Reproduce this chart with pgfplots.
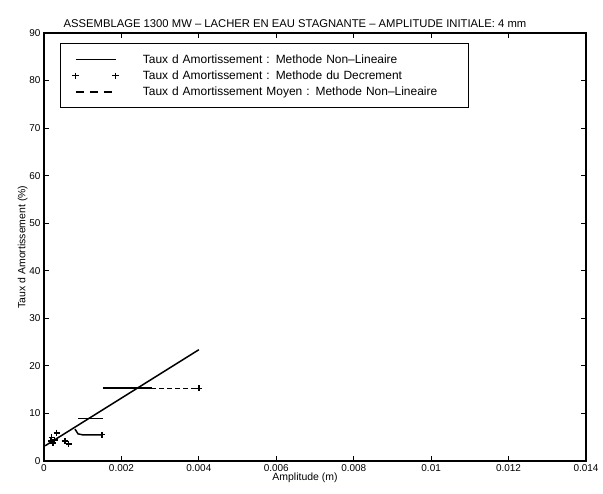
\documentclass[border=0pt]{standalone}
\usepackage{pgfplots}
\pgfplotsset{compat=1.18}
\usepackage{fontspec}
\setmainfont{Liberation Sans}
\begin{document}
\begin{tikzpicture}
\begin{axis}[
  name=ax,
  scale only axis,
  width=542bp, height=428bp,
  xmin=0, xmax=0.014, ymin=0, ymax=90,
  scaled x ticks=false,
  xtick={0,0.002,0.004,0.006,0.008,0.01,0.012,0.014},
  xticklabels={0,0.002,0.004,0.006,0.008,0.01,0.012,0.014},
  ytick={0,10,20,30,40,50,60,70,80,90},
  tick align=inside,
  major tick length=5bp,
  axis line style={line width=1.2bp},
  every tick/.style={black, line width=0.9bp},
  tick label style={font=\fontsize{10}{11}\selectfont},
  /pgf/number format/assume math mode=true,
  title={\fontsize{11.3}{12}\selectfont ASSEMBLAGE 1300 MW -- LACHER EN EAU STAGNANTE -- AMPLITUDE INITIALE: 4 mm},
  title style={yshift=-4bp, xshift=-20bp},
  xlabel={Amplitude (m)},
  ylabel={Taux d Amortissement (\%)},
  label style={font=\fontsize{10.5}{12}\selectfont},
  xlabel style={yshift=5bp, xshift=-10bp},
  ylabel style={yshift=-5bp},
  legend cell align=left,
  legend style={at={(16/542,1-10/428)}, anchor=north west,
    font=\fontsize{12}{13}\selectfont, draw=black, line width=1bp,
    inner xsep=12bp, inner ysep=9bp,
    row sep=2bp,
    /tikz/every odd column/.append style={column sep=22bp},
    text width=312bp},
]
\addplot[black, line width=1.5bp,
  legend image code/.code={\draw[black, line width=1.5bp] (0bp,0bp) -- (40bp,0bp);}]
  coordinates {(0.00003,3.2) (0.004,23.4)};
\addlegendentry{Taux d Amortissement : Methode Non--Lineaire}
\addplot[black, only marks, mark=+, mark size=3.2bp, line width=1.3bp,
  legend image code/.code={\draw[black, line width=1.3bp] plot[mark=+, mark size=3.2bp, only marks] coordinates {(0bp,0bp) (40bp,0bp)};}]
  coordinates {(0.00033,5.9) (0.0002,4.9) (0.00028,4.4) (0.00023,3.8) (0.00054,4.2) (0.00064,3.6) (0.00018,4.2) (0.0015,5.5) (0.0040,15.3)};
\addlegendentry{Taux d Amortissement : Methode du Decrement}
\addplot[black, line width=1.4bp, dash pattern=on 5bp off 3bp,
  legend image code/.code={\draw[black, line width=1.4bp, dash pattern=on 8bp off 6bp] (0bp,0bp) -- (40bp,0bp);}]
  coordinates {(0.00152,15.3) (0.004,15.3)};
\addlegendentry{Taux d Amortissement Moyen : Methode Non--Lineaire}
\addplot[black, line width=1.5bp, forget plot] coordinates {(0.00152,15.3) (0.0028,15.3)};
\addplot[black, line width=1.5bp, forget plot] coordinates {(0.00088,8.9) (0.00152,8.9)};
\addplot[black, line width=1.5bp, forget plot] coordinates {(0.0008,6.7) (0.00088,5.7) (0.001,5.5) (0.0015,5.5)};
\end{axis}
\pgfresetboundingbox
\path ([xshift=-44bp,yshift=-33bp]ax.south west) rectangle ([xshift=17bp,yshift=33bp]ax.north east);
\end{tikzpicture}
\end{document}
